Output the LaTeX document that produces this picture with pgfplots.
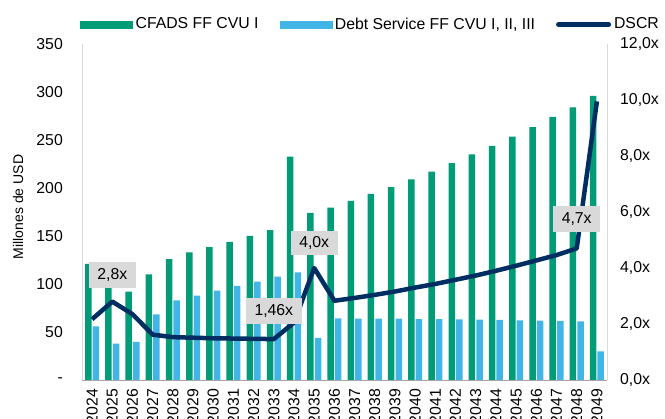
\documentclass[border=0pt]{standalone}
\usepackage{pgfplots}
\usepackage{pgfplotstable}
\pgfplotsset{compat=1.18}
\usepackage{fontspec}
\setmainfont{Liberation Sans}
\definecolor{cgreen}{HTML}{009B77}
\definecolor{cblue}{HTML}{41B6E6}
\definecolor{cnavy}{HTML}{002D62}
\definecolor{clab}{HTML}{D9D9D9}
\definecolor{caxis}{HTML}{D9D9D9}
\definecolor{cbase}{HTML}{A6A6A6}

\pgfplotstableread{
x g b d
0 121 55.8 2.17
1 106 38 2.80
2 92 39.6 2.35
3 110 68.4 1.62
4 126 83 1.53
5 133 88 1.51
6 138.5 93 1.49
7 144 98 1.48
8 150 102.4 1.47
9 156 107.6 1.46
10 232.6 112 2.05
11 174 44 4.0
12 179.5 64.2 2.83
13 186.5 64 2.93
14 193.8 64 3.04
15 201 63.8 3.16
16 209 63.5 3.3
17 217 63.3 3.43
18 226 63.2 3.58
19 235 63 3.73
20 244 62.5 3.9
21 253.5 62.2 4.08
22 263.5 61.8 4.27
23 274 61.5 4.46
24 284 61 4.7
25 296 29.9 9.95
}\data

\begin{document}
\fontsize{15.8}{18}\selectfont
\begin{tikzpicture}
\useasboundingbox (0,0) rectangle (665pt,419pt);
\begin{axis}[
  at={(82pt,39pt)}, anchor=south west,
  scale only axis, width=525pt, height=336pt,
  xmin=-0.5, xmax=25.5, ymin=0, ymax=350,
  axis x line*=bottom, axis y line*=left,
  axis line style={-},
  x axis line style={draw=cbase, line width=0.8pt},
  y axis line style={draw=caxis, line width=0.8pt},
  ytick={0,50,...,350},
  yticklabels={-,50,100,150,200,250,300,350},
  xtick={0,...,25},
  xticklabels={2024,2025,2026,2027,2028,2029,2030,2031,2032,2033,2034,2035,2036,2037,2038,2039,2040,2041,2042,2043,2044,2045,2046,2047,2048,2049},
  xticklabel style={rotate=90, anchor=east, inner sep=0pt},
  xticklabel shift=9pt,
  yticklabel style={anchor=east, inner xsep=0pt, xshift=-19pt},
  major tick length=0pt, tick style={draw=none},
  ylabel={Millones de USD},
  every axis y label/.style={at={(axis description cs:-0.1219,0.515)}, rotate=90, anchor=center, font=\fontsize{14}{16}\selectfont},
]
\addplot[ybar, bar width=6.5pt, bar shift=-3.8pt, fill=cgreen, draw=none] table[x=x,y=g]{\data};
\addplot[ybar, bar width=6.5pt, bar shift=3.8pt, fill=cblue, draw=none] table[x=x,y=b]{\data};
\end{axis}
\begin{axis}[
  at={(82pt,39pt)}, anchor=south west,
  scale only axis, width=525pt, height=336pt,
  xmin=-0.5, xmax=25.5, ymin=0, ymax=12,
  axis x line=none, axis y line*=right,
  axis line style={-},
  y axis line style={draw=caxis, line width=0.8pt},
  ytick={0,2,...,12},
  yticklabels={{0,0x},{2,0x},{4,0x},{6,0x},{8,0x},{10,0x},{12,0x}},
  yticklabel style={anchor=west, inner xsep=0pt, xshift=13pt},
  major tick length=0pt, tick style={draw=none},
  legend columns=3,
  legend style={at={(axis description cs:-0.0038,1.058)}, anchor=west, draw=none, fill=none, inner sep=0pt,
    nodes={inner xsep=3pt, inner ysep=0pt},
    /tikz/every even column/.append style={column sep=18pt}},
  legend cell align=left,
]
\addlegendimage{legend image code/.code={\fill[cgreen] (0pt,-3.5pt) rectangle (52pt,3.5pt);}}
\addlegendentry{CFADS FF CVU I}
\addlegendimage{legend image code/.code={\fill[cblue] (0pt,-3.5pt) rectangle (52pt,3.5pt);}}
\addlegendentry{Debt Service FF CVU I, II, III}
\addplot[cnavy, line width=4.5pt, line join=round, mark=none,
  legend image code/.code={\draw[cnavy, line width=5pt, line cap=round] (2.5pt,0pt) -- (52.5pt,0pt);}]
  table[x=x,y=d]{\data};
\addlegendentry{DSCR}
\node[fill=clab, inner xsep=8.5pt, inner ysep=0pt, minimum height=26pt] at (axis cs:1,3.75) {2,8x};
\node[fill=clab, inner xsep=8.5pt, inner ysep=0pt, minimum height=26pt] at (axis cs:9,2.46) {1,46x};
\node[fill=clab, inner xsep=8.5pt, inner ysep=0pt, minimum height=24pt] at (axis cs:11,4.89) {4,0x};
\node[fill=clab, inner xsep=8.5pt, inner ysep=0pt, minimum height=26pt] at (axis cs:24,5.75) {4,7x};
\end{axis}
\end{tikzpicture}
\end{document}
